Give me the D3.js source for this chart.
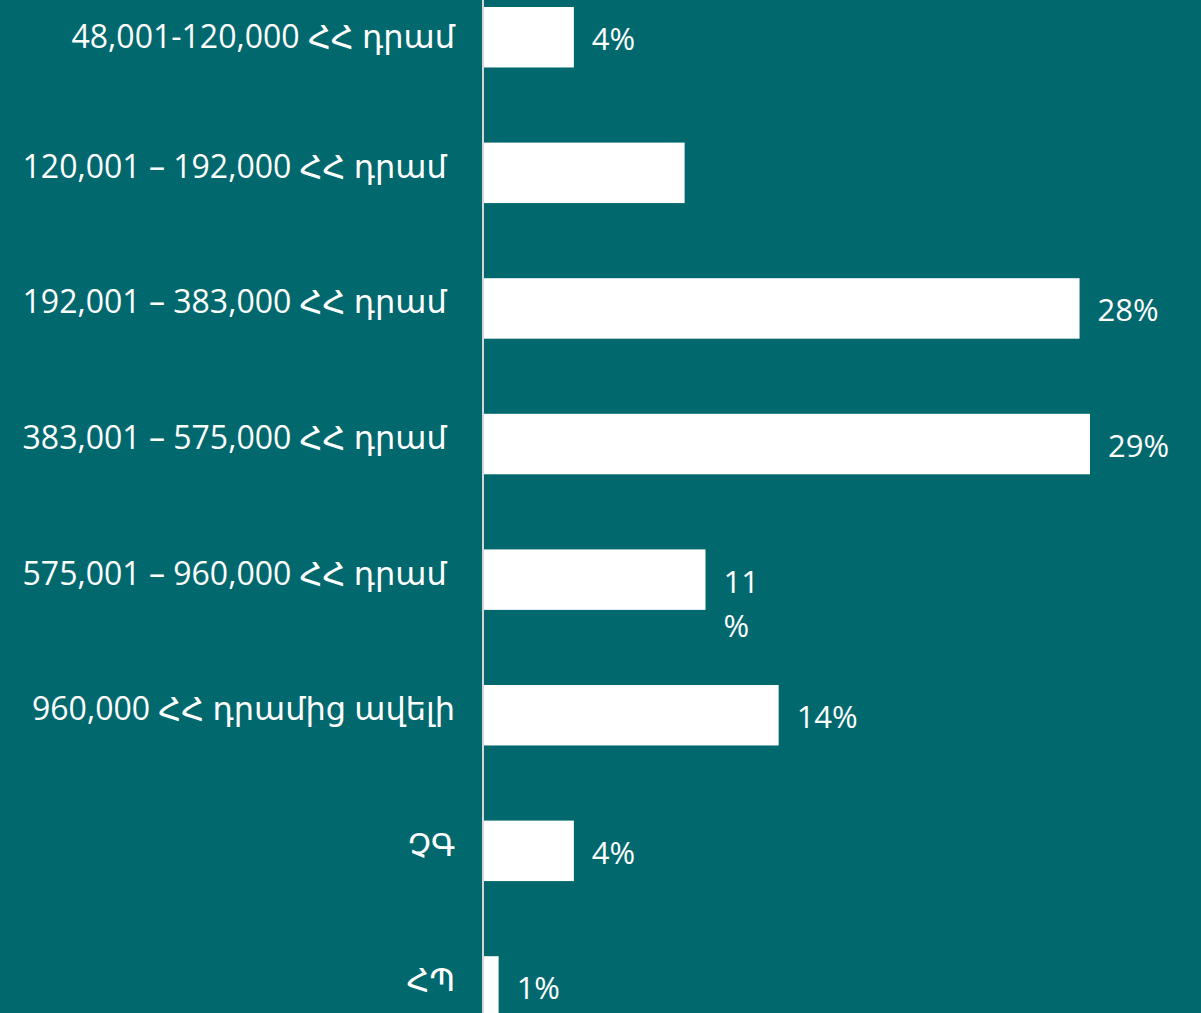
<!DOCTYPE html>
<html>
<head>
<meta charset="utf-8">
<script src="https://cdn.jsdelivr.net/npm/d3@7"></script>
<style>
  html, body { margin: 0; padding: 0; background: #01696e; }
  #viz_container { width: 1201px; height: 1013px; overflow: hidden; }
  text { font-family: "Open Sans", "Noto Sans", "DejaVu Sans", sans-serif; fill: #ffffff; }
</style>
</head>
<body>
<div id="viz_container"></div>
<script>
// data
const categories = [
    "48,001-120,000 ՀՀ դրամ",
    "120,001 – 192,000 ՀՀ դրամ ",
    "192,001 – 383,000 ՀՀ դրամ ",
    "383,001 – 575,000 ՀՀ դրամ ",
    "575,001 – 960,000 ՀՀ դրամ ",
    "960,000 ՀՀ դրամից ավելի",
    "ՉԳ",
    "ՀՊ"
];
const shares = [4.3, 9.6, 28.5, 29.0, 10.6, 14.1, 4.3, 0.7];
const valueLabels = ["4%", "", "28%", "29%", "11\n%", "14%", "4%", "1%"];

// dimensions
const width = 1201;
const height = 1013;
const margin = { top: 7, left: 484 };

const svg = d3.select("#viz_container")
    .append("svg")
    .attr("width", width)
    .attr("height", height);

svg.append("rect")
    .attr("width", width)
    .attr("height", height)
    .attr("fill", "#01696e");

// X scale
const x = d3.scaleLinear()
    .domain([0, 29])
    .range([margin.left, margin.left + 606]);

// Y scale
const y = d3.scaleBand()
    .domain(categories)
    .range([margin.top, margin.top + 135.6 * 7.446])
    .paddingInner(0.554)
    .paddingOuter(0)
    .align(0);

// bars
svg.append("g")
    .selectAll("rect")
    .data(shares)
    .join("rect")
    .attr("x", x(0))
    .attr("y", (d, i) => y(categories[i]))
    .attr("width", d => x(d) - x(0))
    .attr("height", y.bandwidth())
    .attr("fill", "#ffffff");

// category axis (ticks sit at band centres)
const yAxis = svg.append("g")
    .attr("transform", `translate(${margin.left - 1}, 0)`)
    .call(d3.axisLeft(y).tickSize(0).tickPadding(28));

yAxis.select(".domain").remove();
yAxis.append("line")
    .attr("x1", 0).attr("x2", 0)
    .attr("y1", 0).attr("y2", height)
    .attr("stroke", "#d6d6d6")
    .attr("stroke-width", 2);

yAxis.selectAll(".tick text")
    .attr("font-size", 32)
    .attr("fill", "#ffffff")
    .style("white-space", "pre")
    .attr("dy", null)
    .attr("y", (d, i) => i === 0 ? 11 : 5);

// value labels
const labels = svg.append("g")
    .selectAll("text")
    .data(shares)
    .join("text")
    .attr("x", d => x(d) + 18)
    .attr("y", (d, i) => y(categories[i]) + y.bandwidth() / 2 + 13)
    .attr("font-size", 31);

labels.each(function (d, i) {
    const lines = valueLabels[i].split("\n");
    d3.select(this).selectAll("tspan")
        .data(lines)
        .join("tspan")
        .attr("x", x(d) + 18)
        .attr("dy", (l, j) => j === 0 ? 0 : 44)
        .text(l => l);
});
</script>
</body>
</html>
